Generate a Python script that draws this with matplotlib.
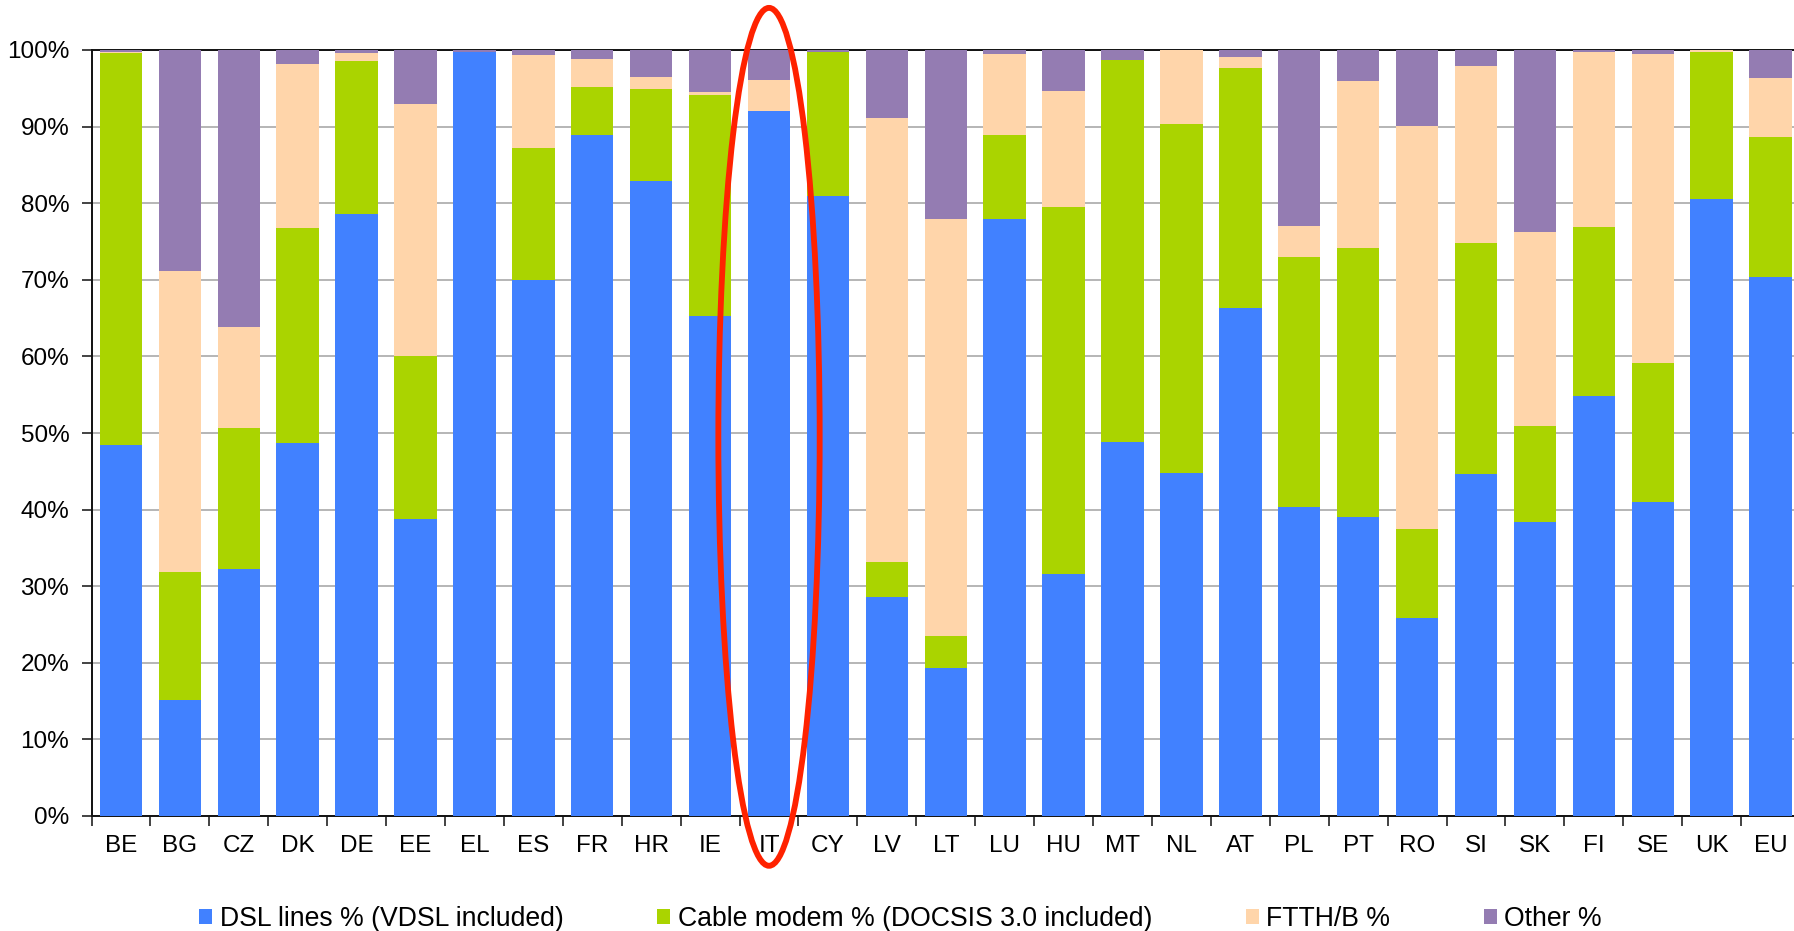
import matplotlib
matplotlib.use("Agg")
import matplotlib.pyplot as plt
from matplotlib.patches import Ellipse, Patch
import numpy as np

plt.rcParams["font.family"] = ["Liberation Sans", "DejaVu Sans"]

countries = ["BE", "BG", "CZ", "DK", "DE", "EE", "EL", "ES", "FR", "HR",
             "IE", "IT", "CY", "LV", "LT", "LU", "HU", "MT", "NL", "AT",
             "PL", "PT", "RO", "SI", "SK", "FI", "SE", "UK", "EU"]

dsl = [48.4, 15.1, 32.2, 48.7, 78.6, 38.8, 99.7, 70.0, 88.9, 82.9,
       65.3, 92.0, 81.0, 28.6, 19.3, 78.0, 31.6, 48.8, 44.8, 66.3,
       40.3, 39.0, 25.8, 44.6, 38.4, 54.8, 41.0, 80.5, 70.4]
cable = [51.2, 16.8, 18.5, 28.0, 19.9, 21.3, 0.0, 17.2, 6.3, 12.0,
         28.8, 0.0, 18.7, 4.5, 4.2, 10.9, 47.9, 49.9, 45.6, 31.4,
         32.7, 35.2, 11.7, 30.2, 12.5, 22.1, 18.1, 19.3, 18.3]
ftth = [0.2, 39.2, 13.1, 21.5, 1.1, 32.9, 0.0, 12.1, 3.6, 1.6,
        0.4, 4.1, 0.1, 58.0, 54.4, 10.6, 15.2, 0.0, 9.6, 1.4,
        4.0, 21.8, 52.6, 23.1, 25.3, 22.8, 40.4, 0.2, 7.7]
other = [0.2, 28.9, 36.2, 1.8, 0.4, 7.0, 0.3, 0.7, 1.2, 3.5,
         5.5, 3.9, 0.2, 8.9, 22.1, 0.5, 5.3, 1.3, 0.0, 0.9,
         23.0, 4.0, 9.9, 2.1, 23.8, 0.3, 0.5, 0.0, 3.6]

series_labels = ["DSL lines % (VDSL included)",
                 "Cable modem % (DOCSIS 3.0 included)",
                 "FTTH/B %", "Other %"]
series_colors = ["#4181FF", "#AAD400", "#FFD5AA", "#947CB2"]
highlight = "IT"

W, H = 1794, 931
fig = plt.figure(figsize=(W / 100, H / 100), dpi=100)
left_px, right_px, top_px, bottom_px = 91.5, 1800.0, 50.0, 816.0
ax = fig.add_axes([left_px / W, 1 - bottom_px / H,
                   (right_px - left_px) / W, (bottom_px - top_px) / H])

x = np.arange(len(countries))
bottom = np.zeros(len(countries))
for vals, lab, col in zip([dsl, cable, ftth, other], series_labels, series_colors):
    vals = np.array(vals)
    ax.bar(x, vals, width=0.72, bottom=bottom, color=col, label=lab,
           zorder=3, linewidth=0)
    bottom += vals

ax.set_xlim(-0.5, len(countries) - 0.5)
ax.set_ylim(0, 100)

# y axis
yt = np.arange(0, 101, 10)
ax.set_yticks(yt)
ax.set_yticklabels([f"{v}%" for v in yt], fontsize=17.5)
ax.tick_params(axis="y", direction="out", length=7, width=1.2, pad=9,
               colors="#222222", labelcolor="black")
ax.yaxis.grid(True, color="#B5B5B5", linewidth=1.4, zorder=0)

# x axis: labels at bar centres, tick marks at category boundaries
ax.set_xticks(x)
ax.set_xticklabels(countries, fontsize=17.5)
ax.set_xticks(np.arange(-0.5, len(countries), 1.0), minor=True)
ax.tick_params(axis="x", which="major", length=0, pad=14)
ax.tick_params(axis="x", which="minor", direction="out", length=7, width=1.2,
               colors="#222222")

for side in ["left", "bottom", "top"]:
    ax.spines[side].set_color("#111111")
    ax.spines[side].set_linewidth(1.4)
ax.spines["right"].set_visible(False)

# highlight ring around one country
i = countries.index(highlight)
ring = Ellipse((i, 49.5), width=1.72, height=112, fill=False,
               edgecolor="#FF2200", linewidth=4.2, zorder=5, clip_on=False)
ax.add_patch(ring)

handles = [Patch(facecolor=c, edgecolor="none") for c in series_colors]
fig.legend(handles, series_labels, loc="center", ncol=4, frameon=False,
           bbox_to_anchor=(0.502, 1 - 919 / H), fontsize=19.2,
           handlelength=0.5, handleheight=0.5, handletextpad=0.28,
           columnspacing=3.5, borderaxespad=0, borderpad=0)

fig.savefig("out.png", dpi=100)
